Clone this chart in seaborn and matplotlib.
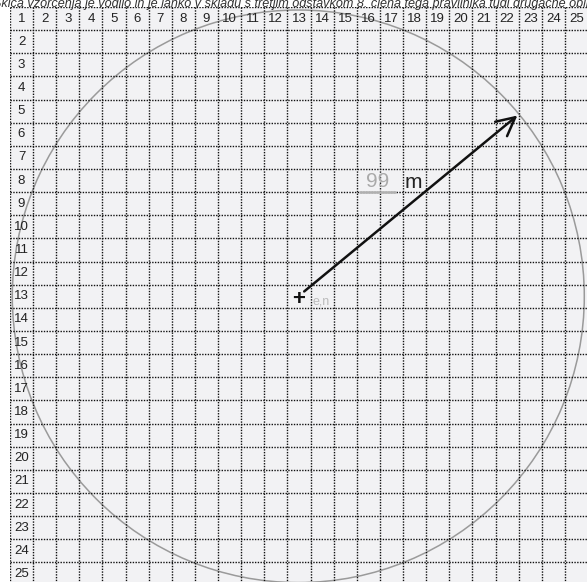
import numpy as np
import seaborn as sns
import matplotlib.pyplot as plt
from matplotlib.patches import Circle

# grid labels
n_cells = 25
col_labels = [str(i) for i in range(1, 26)]
row_labels = [str(i) for i in range(1, 26)]

# sampling sketch geometry (grid units)
center = (12.47, 12.5)
radius = 12.37
arrow_angle = 39.5          # degrees
arrow_from, arrow_to = 0.33, 12.28
distance_label = '99'
unit_label = 'm'
coord_label = 'e,n'
title = ('Skica vzorčenja je vodilo in je lahko v skladu s tretjim odstavkom '
         '8. člena tega pravilnika tudi drugačne oblike.')

sns.set_theme(style='white')
plt.rcParams['font.family'] = ['Liberation Sans', 'DejaVu Sans']

cells = np.zeros((n_cells, n_cells))
annot = np.full((n_cells, n_cells), '', dtype=object)
annot[0, :] = col_labels
annot[:, 0] = row_labels

W, H = 587, 582
fig = plt.figure(figsize=(W / 100, H / 100), dpi=100)
ax = fig.add_axes([10 / W, 1 - 7 / H - 578.6 / H, 578 / W, 578.6 / H])
sns.heatmap(cells, ax=ax, cmap=['#f2f2f4'], cbar=False, annot=annot, fmt='',
            annot_kws=dict(size=9.5, color='#222222'),
            xticklabels=False, yticklabels=False)

# dotted cell borders
lines = np.arange(n_cells + 1)
dot = (0, (1, 1))
ax.vlines(lines, 0, n_cells, colors='#111111', lw=1.0, linestyles=[dot])
ax.hlines(lines, 0, n_cells, colors='#111111', lw=1.0, linestyles=[dot])

# sampling circle
ax.add_patch(Circle(center, radius, fill=False, ec='#9a9a9a', lw=1.1, clip_on=False))

# radius arrow (y axis is inverted in heatmap)
a = np.deg2rad(arrow_angle)
start = (center[0] + arrow_from * np.cos(a), center[1] - arrow_from * np.sin(a))
tip = (center[0] + arrow_to * np.cos(a), center[1] - arrow_to * np.sin(a))
ax.annotate('', xy=tip, xytext=start,
            arrowprops=dict(arrowstyle='->,head_length=0.55,head_width=0.28',
                            lw=1.8, color='#111111', mutation_scale=24,
                            shrinkA=0, shrinkB=0))

ax.text(center[0], center[1] + 0.15, '+', ha='center', va='center', size=16,
        weight='bold', color='#111111')
ax.text(13.1, 12.85, coord_label, ha='left', va='baseline', size=9, color='#bbbbbb')

# distance label
ax.text(15.9, 7.53, distance_label, ha='center', va='center', size=15, color='#aaaaaa')
ax.plot([15.1, 16.7], [7.99, 7.99], color='#b0b0b0', lw=1.8, solid_capstyle='butt')
ax.text(17.44, 7.84, unit_label, ha='center', va='baseline', size=15, color='#222222')

fig.text(-7 / W, 1 - 6.5 / H, title, ha='left', va='baseline', style='italic',
         size=9.1, color='#333333')

fig.savefig('out.png', dpi=100)
